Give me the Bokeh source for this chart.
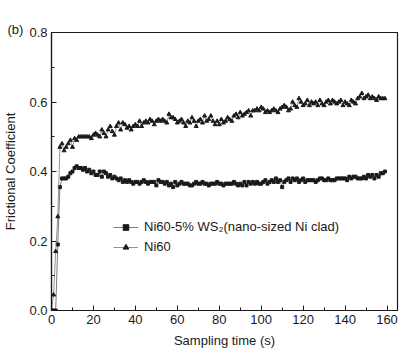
from bokeh.plotting import figure
from bokeh.models import Legend, LegendItem, FixedTicker
from bokeh.embed import file_html
from bokeh.resources import INLINE

# sampling time (s)
time_s = list(range(0, 160))

# Ni60-5% WS2 (nano-sized Ni clad) -- squares
ws2 = [0.0, 0.0, 0.0, 0.19, 0.355, 0.38, 0.38, 0.38, 0.385, 0.395,
       0.40, 0.41, 0.415, 0.41, 0.41, 0.405, 0.41, 0.40, 0.405, 0.395,
       0.40, 0.39, 0.39, 0.40, 0.385, 0.40, 0.395, 0.385, 0.39, 0.38,
       0.385, 0.38, 0.375, 0.38, 0.37, 0.375, 0.37, 0.375, 0.37, 0.365,
       0.37, 0.37, 0.365, 0.37, 0.375, 0.37, 0.365, 0.37, 0.37, 0.37,
       0.36, 0.375, 0.37, 0.37, 0.365, 0.37, 0.36, 0.365, 0.355, 0.37,
       0.36, 0.365, 0.37, 0.365, 0.365, 0.365, 0.36, 0.36, 0.365, 0.37,
       0.365, 0.365, 0.37, 0.365, 0.365, 0.36, 0.365, 0.365, 0.365, 0.37,
       0.365, 0.365, 0.36, 0.365, 0.365, 0.365, 0.365, 0.37, 0.365, 0.36,
       0.365, 0.36, 0.37, 0.36, 0.37, 0.365, 0.37, 0.365, 0.37, 0.365,
       0.365, 0.37, 0.375, 0.365, 0.37, 0.375, 0.37, 0.38, 0.37, 0.375,
       0.355, 0.37, 0.375, 0.38, 0.37, 0.38, 0.375, 0.38, 0.37, 0.375,
       0.38, 0.37, 0.375, 0.375, 0.375, 0.375, 0.37, 0.375, 0.38, 0.38,
       0.375, 0.375, 0.38, 0.375, 0.375, 0.375, 0.38, 0.38, 0.38, 0.38,
       0.38, 0.375, 0.385, 0.38, 0.385, 0.385, 0.38, 0.38, 0.38, 0.385,
       0.38, 0.39, 0.385, 0.39, 0.38, 0.39, 0.385, 0.395, 0.395, 0.40]

# Ni60 -- triangles
ni60 = [0.0, 0.045, 0.17, 0.27, 0.47, 0.48, 0.46, 0.47, 0.48, 0.49,
        0.47, 0.495, 0.49, 0.50, 0.50, 0.50, 0.50, 0.50, 0.50, 0.495,
        0.505, 0.51, 0.505, 0.50, 0.52, 0.51, 0.50, 0.52, 0.53, 0.515,
        0.505, 0.53, 0.54, 0.52, 0.54, 0.535, 0.525, 0.53, 0.52, 0.53,
        0.535, 0.53, 0.545, 0.53, 0.54, 0.545, 0.54, 0.55, 0.545, 0.535,
        0.545, 0.55, 0.545, 0.55, 0.545, 0.54, 0.565, 0.555, 0.555, 0.55,
        0.54, 0.545, 0.55, 0.54, 0.53, 0.545, 0.54, 0.555, 0.545, 0.53,
        0.545, 0.55, 0.54, 0.56, 0.545, 0.55, 0.56, 0.545, 0.535, 0.545,
        0.535, 0.55, 0.54, 0.545, 0.555, 0.55, 0.545, 0.56, 0.565, 0.555,
        0.57, 0.56, 0.565, 0.57, 0.575, 0.56, 0.575, 0.575, 0.58, 0.575,
        0.585, 0.58, 0.57, 0.575, 0.57, 0.575, 0.58, 0.575, 0.57, 0.58,
        0.585, 0.59, 0.585, 0.575, 0.58, 0.60, 0.59, 0.585, 0.61, 0.60,
        0.59, 0.595, 0.605, 0.59, 0.60, 0.595, 0.60, 0.59, 0.605, 0.595,
        0.59, 0.60, 0.605, 0.595, 0.605, 0.60, 0.595, 0.60, 0.605, 0.59,
        0.60, 0.595, 0.59, 0.605, 0.60, 0.595, 0.61, 0.615, 0.625, 0.61,
        0.615, 0.62, 0.61, 0.615, 0.61, 0.605, 0.615, 0.61, 0.61, 0.61]

x_ticks = [0, 20, 40, 60, 80, 100, 120, 140, 160]
y_ticks = [0.0, 0.2, 0.4, 0.6, 0.8]
y_tick_labels = {0.0: "0.0", 0.2: "0.2", 0.4: "0.4", 0.6: "0.6", 0.8: "0.8"}

label_ws2 = "Ni60-5% WS\u2082(nano-sized Ni clad)"
label_ni60 = "Ni60"
panel_tag = "(b)"

FONT = "Liberation Sans"
INK = "#1a1a1a"

p = figure(width=400, height=352, output_backend="svg", toolbar_location=None,
           x_range=(0, 165), y_range=(0, 0.8), title=panel_tag,
           min_border_left=50, min_border_right=3, min_border_top=32, min_border_bottom=42)
p.title.align = "left"
p.title.offset = -44
p.title.standoff = -8
p.title.text_font = FONT
p.title.text_font_size = "13px"
p.title.text_font_style = "normal"
p.title.text_color = INK

p.background_fill_color = "white"
p.border_fill_color = "white"
p.outline_line_color = INK
p.outline_line_width = 1.2
p.xgrid.visible = False
p.ygrid.visible = False

for ax in (p.xaxis[0], p.yaxis[0]):
    ax.major_tick_in = 5
    ax.major_tick_out = 0
    ax.minor_tick_in = 3
    ax.minor_tick_out = 0
    ax.major_tick_line_color = INK
    ax.minor_tick_line_color = INK
    ax.axis_line_color = INK
    ax.axis_line_width = 1.2
    ax.major_label_text_font = FONT
    ax.major_label_text_font_size = "13px"
    ax.major_label_text_color = INK
    ax.axis_label_text_font = FONT
    ax.axis_label_text_font_size = "13px"
    ax.axis_label_text_font_style = "normal"
    ax.axis_label_text_color = INK

p.xaxis.ticker = FixedTicker(ticks=x_ticks, minor_ticks=[10, 30, 50, 70, 90, 110, 130, 150])
p.yaxis.ticker = FixedTicker(ticks=y_ticks, minor_ticks=[0.1, 0.3, 0.5, 0.7])
p.yaxis.major_label_overrides = y_tick_labels
p.xaxis.axis_label = "Sampling time (s)"
p.yaxis.axis_label = "Frictional Coefficient"
p.xaxis.major_label_standoff = 4
p.yaxis.major_label_standoff = 4
p.xaxis.axis_label_standoff = 6
p.yaxis.axis_label_standoff = 8

l1 = p.line(time_s, ws2, line_color="#444444", line_width=0.7)
s1 = p.scatter(time_s, ws2, marker="square", size=3, fill_color=INK, line_color=INK)
l2 = p.line(time_s, ni60, line_color="#666666", line_width=0.7)
s2 = p.scatter(time_s, ni60, marker="triangle", size=4, fill_color=INK, line_color=INK)

legend = Legend(items=[LegendItem(label=label_ws2, renderers=[l1, s1]),
                       LegendItem(label=label_ni60, renderers=[l2, s2])],
                location=(58, 52), orientation="vertical",
                glyph_width=25, glyph_height=14, spacing=5, padding=4,
                label_text_font=FONT, label_text_font_size="13px",
                label_text_color=INK, label_standoff=6,
                border_line_alpha=0, background_fill_alpha=0)
p.add_layout(legend, "center")

open("out.html", "w").write(file_html(p, INLINE))
